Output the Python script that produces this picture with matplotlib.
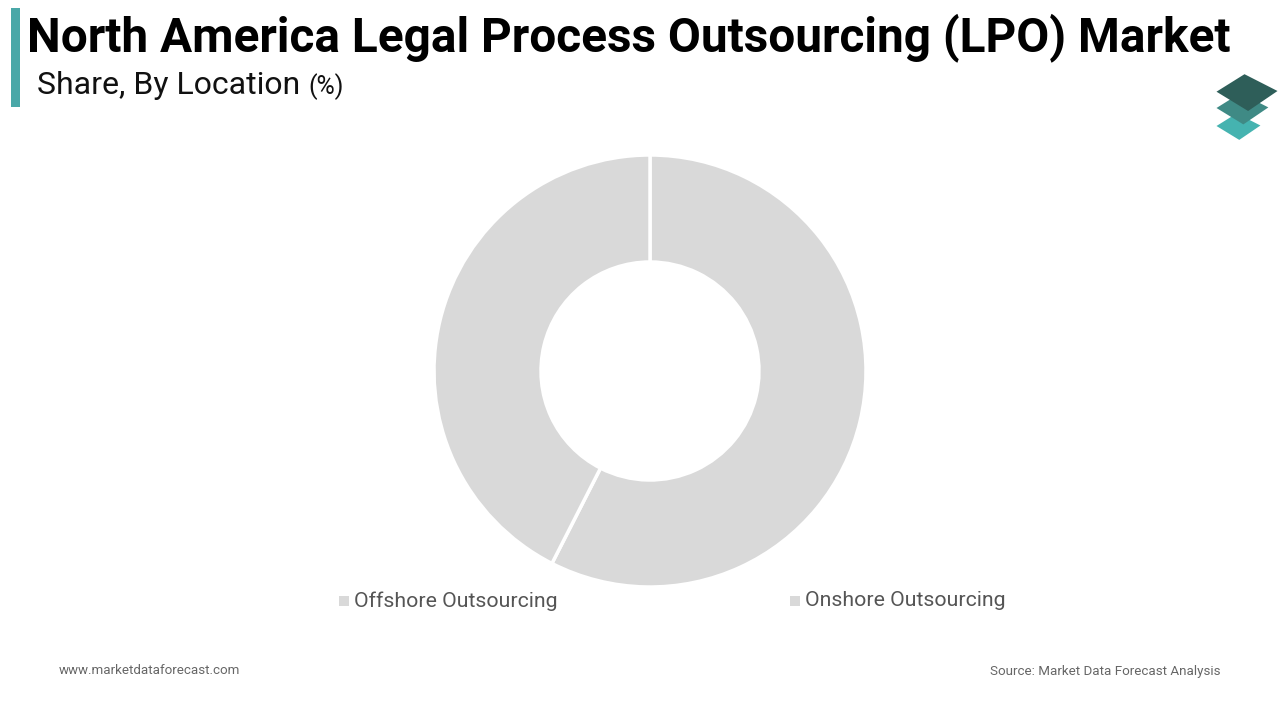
import matplotlib
matplotlib.use("Agg")
import matplotlib.pyplot as plt
from matplotlib.patches import Polygon, Rectangle

categories = ["Offshore Outsourcing", "Onshore Outsourcing"]
shares = [57.5, 42.5]
colors = ["#d9d9d9", "#d9d9d9"]

plt.rcParams['font.family'] = ['Roboto', 'DejaVu Sans']

W, H = 1280, 720
fig = plt.figure(figsize=(12.8, 7.2), dpi=100)
fig.patch.set_facecolor("white")

def fx(x): return x / W
def fy(y): return 1 - y / H

# Title bar accent
fig.patches.append(Rectangle((fx(11), fy(107)), fx(9), (107 - 8) / H, transform=fig.transFigure,
                             facecolor="#4aa8a8", edgecolor="none"))
fig.text(fx(27), fy(51), "North America Legal Process Outsourcing (LPO) Market",
         fontsize=34.4, fontweight="bold", color="#000000", ha="left", va="baseline")
t = fig.text(fx(37), fy(94), "Share, By Location ", fontsize=23, color="#111111", ha="left", va="baseline")
fig.canvas.draw()
bb = t.get_window_extent()
fig.text(bb.x1 / W, fy(94), "(%)", fontsize=18, color="#111111", ha="left", va="baseline")

# Logo
def shape(lx, ly, s, color):
    offs = [(0, 0), (28, -17.5), (61, -0.7), (31.6, 19.3)]
    pts = [(fx(lx + s * dx), fy(ly + s * dy)) for dx, dy in offs]
    fig.patches.append(Polygon(pts, closed=True, transform=fig.transFigure, facecolor=color,
                               edgecolor="none"))
shape(1216.5, 126, 0.72, "#45b3b0")
shape(1216.5, 108, 0.85, "#3f8a85")
shape(1216.5, 91.7, 1.0, "#2e5e59")

# Donut
cx, cy, R = 650, 371, 216
ax = fig.add_axes([fx(cx - R), fy(cy + R), 2 * R / W, 2 * R / H])
wedges, _ = ax.pie(shares, colors=colors, startangle=90, counterclock=False,
                   wedgeprops=dict(width=1 - 109 / 216, edgecolor="white", linewidth=2.5))
ax.set_aspect("equal")
ax.set_xlim(-1, 1)
ax.set_ylim(-1, 1)
ax.axis("off")

# Legend
leg_x = [339, 790]
for x, name, c in zip(leg_x, categories, colors):
    fig.patches.append(Rectangle((fx(x), fy(606)), 10 / W, 10 / H, transform=fig.transFigure,
                                 facecolor=c, edgecolor="none"))
    fig.text(fx(x + 15), fy(601), name, fontsize=15.3, color="#555555", ha="left", va="center")

# Footer
fig.text(fx(59), fy(671), "www.marketdataforecast.com", fontsize=9.6, color="#666666", ha="left", va="center")
fig.text(fx(1220), fy(671), "Source: Market Data Forecast Analysis", fontsize=9.6, color="#666666",
         ha="right", va="center")

fig.savefig("out.png", dpi=100, facecolor="white")
